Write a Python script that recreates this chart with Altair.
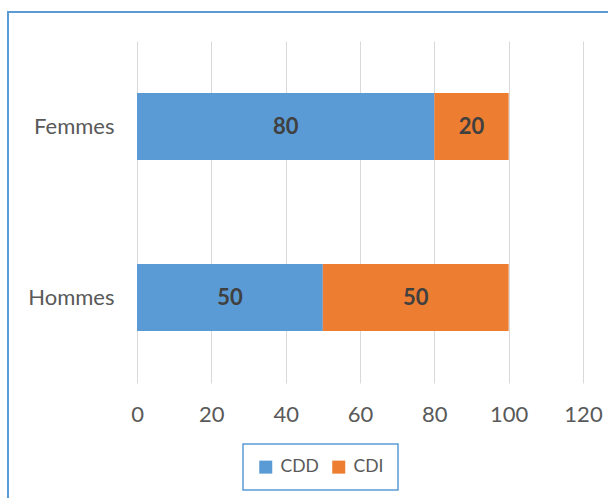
import altair as alt
import pandas as pd

categories = ["Femmes", "Hommes"]
series = ["CDD", "CDI"]
cdd_values = [80, 50]
cdi_values = [20, 50]
x_ticks = [0, 20, 40, 60, 80, 100, 120]

rows = []
for i, c in enumerate(categories):
    rows.append({"cat": c, "type": "CDD", "value": cdd_values[i], "order": 0})
    rows.append({"cat": c, "type": "CDI", "value": cdi_values[i], "order": 1})
df = pd.DataFrame(rows)

FONT = "Lato"
GRAY = "#595959"

base = alt.Chart(df).transform_stack(
    stack="value", groupby=["cat"], as_=["start", "end"],
    sort=[alt.SortField("order", order="ascending")]
).transform_calculate(mid="(datum.start + datum.end) / 2")

xscale = alt.Scale(domain=[0, 120], nice=False, zero=True)
yscale = alt.Scale(domain=categories, paddingInner=0, paddingOuter=0)

bars = base.mark_bar(size=67).encode(
    y=alt.Y("cat:N", scale=yscale, sort=categories,
            axis=alt.Axis(title=None, ticks=False, domain=False, grid=False,
                          labelFontSize=22, labelFont=FONT, labelColor=GRAY,
                          labelPadding=23)),
    x=alt.X("start:Q", scale=xscale,
            axis=alt.Axis(title=None, values=x_ticks, ticks=False, domain=False,
                          grid=True, gridColor="#D9D9D9", gridWidth=1,
                          labelFontSize=22, labelFont=FONT, labelColor=GRAY,
                          labelPadding=21, labelFlush=False, labelOverlap=False)),
    x2="end:Q",
    color=alt.Color("type:N", scale=alt.Scale(domain=series, range=["#5B9BD5", "#ED7D31"]),
                    legend=alt.Legend(title=None, orient="none", legendX=106, legendY=403,
                                      direction="horizontal", symbolType="square",
                                      symbolSize=169, symbolStrokeWidth=0,
                                      labelFontSize=17.5, labelFont=FONT, labelColor=GRAY,
                                      labelOffset=6, columnPadding=11, padding=14,
                                      strokeColor="#5B9BD5")),
)

labels = base.mark_text(font=FONT, fontSize=22, fontWeight="bold", color="#404040",
                        baseline="middle", align="center").encode(
    y=alt.Y("cat:N", scale=yscale, sort=categories),
    x=alt.X("mid:Q", scale=xscale),
    text=alt.Text("value:Q"),
)

border = alt.Chart(pd.DataFrame({"a": [0]})).mark_rect(
    fillOpacity=0, stroke="#5B9BD5", strokeWidth=2
).encode(x=alt.value(-129), x2=alt.value(800), y=alt.value(-29), y2=alt.value(700))

chart = alt.layer(border, bars, labels).properties(
    width=446, height=342,
    autosize=alt.AutoSizeParams(type="none"),
    padding={"left": 137, "top": 41, "right": 25, "bottom": 115},
).configure_view(stroke=None).configure_legend(strokeWidth=1.5)

chart.save("out.html", embed_options={"renderer": "svg", "actions": False})
